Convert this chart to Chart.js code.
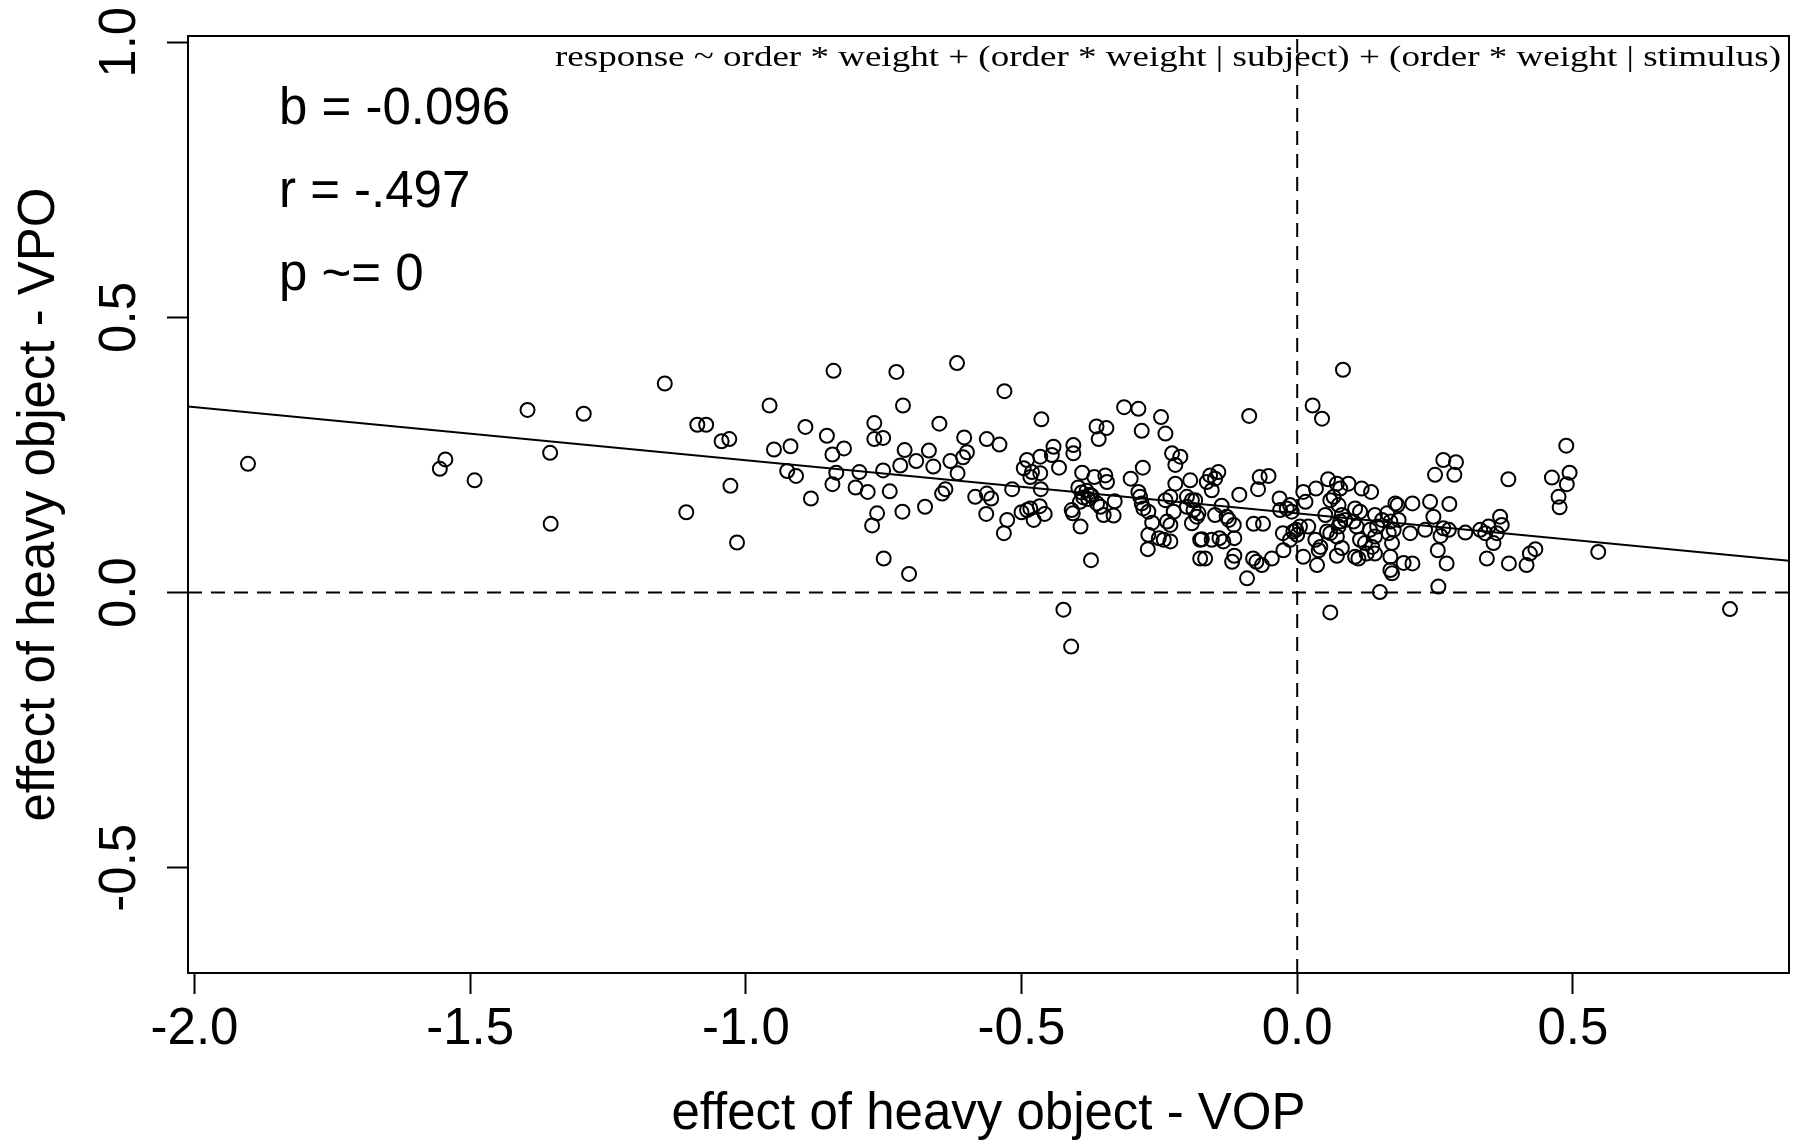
<!DOCTYPE html>
<html>
<head>
<meta charset="utf-8">
<script src="https://cdn.jsdelivr.net/npm/chart.js@4.4.1/dist/chart.umd.min.js"></script>
<style>
  html, body { margin: 0; padding: 0; background: #fff; }
  #wrap { width: 1801px; height: 1142px; }
</style>
</head>
<body>
<div id="wrap"><canvas id="plot" width="1801" height="1142"></canvas></div>
<script>
// ----------------- DATA -----------------
// effect of heavy object - VOP (x) / VPO (y), one entry per item
const vopEffect = [
  -1.903, -1.545, -1.555, -1.492, -1.396, -1.355, -1.354, -1.294, -1.147, -1.088,
  -1.072, -1.044, -1.030, -1.028, -1.108, -1.016, -0.957, -0.949,
  -0.919, -0.892, -0.925, -0.909, -0.882, -0.841, -0.853, -0.843, -0.822, -0.836,
  -0.843, -0.801, -0.779, -0.794, -0.767, -0.767, -0.751, -0.751, -0.739, -0.762,
  -0.771, -0.750, -0.704, -0.727, -0.715, -0.712, -0.720, -0.691, -0.716, -0.675,
  -0.668, -0.660, -0.649, -0.629, -0.617, -0.604, -0.599, -0.606, -0.616, -0.638,
  -0.644, -0.584, -0.563, -0.555, -0.564, -0.526, -0.532, -0.563, -0.540, -0.531,
  -0.517,
  -0.464, -0.490, -0.496, -0.481, -0.484, -0.466, -0.466, -0.442, -0.445, -0.432,
  -0.406, -0.406, -0.465, -0.500, -0.484, -0.478, -0.467, -0.458, -0.490, -0.409,
  -0.407, -0.393, -0.374, -0.390, -0.397, -0.391, -0.382, -0.376, -0.388, -0.379,
  -0.394, -0.373, -0.368, -0.348, -0.345, -0.363, -0.357, -0.351, -0.333, -0.331,
  -0.364, -0.346, -0.360, -0.314, -0.288, -0.282, -0.247, -0.239, -0.302, -0.280,
  -0.288, -0.285, -0.282, -0.279, -0.270, -0.263, -0.270, -0.271, -0.251, -0.242,
  -0.230, -0.236, -0.230, -0.239, -0.230, -0.224, -0.221, -0.227, -0.212, -0.221,
  -0.200, -0.191, -0.200, -0.188, -0.194, -0.182, -0.176, -0.176, -0.424, -0.410,
  0.083, 0.028, 0.045, -0.087, -0.158, -0.143, -0.164, -0.149, -0.155, -0.185,
  -0.179, -0.191, -0.149, -0.137, -0.128, -0.124, -0.115, -0.105, -0.068, -0.052,
  -0.071, -0.173, -0.155, -0.141, -0.134, -0.114, -0.167, -0.118, -0.114, -0.091,
  -0.079, -0.062, -0.080, -0.074, -0.064, -0.046, -0.032, -0.031, -0.013, -0.010,
  -0.019, -0.026, -0.025, -0.013, -0.002, 0.005, 0.000, -0.007, 0.011, 0.015,
  0.034, 0.020, 0.033, 0.042, 0.039, 0.011, 0.036, 0.056, 0.072, 0.093,
  0.078, 0.066, 0.060, 0.075, 0.051, 0.081, 0.078, 0.087, 0.075, 0.060,
  0.054, 0.072, 0.081, 0.072, 0.117, 0.134, 0.105, 0.114, 0.102, 0.108,
  0.105, 0.111, 0.114, 0.123, 0.132, 0.141, 0.136, 0.145, 0.126, 0.141,
  0.141, 0.154, 0.163, 0.178, 0.169, 0.175, 0.166, 0.172, 0.169, 0.172,
  0.150, 0.060, 0.169,
  0.488, 0.462, 0.494, 0.489, 0.474, 0.476, 0.383, 0.265, 0.288, 0.250,
  0.285, 0.182, 0.209, 0.241, 0.276, 0.247, 0.184, 0.205, 0.232, 0.265,
  0.260, 0.275, 0.305, 0.255, 0.271, 0.256, 0.193, 0.209, 0.332, 0.347,
  0.368, 0.371, 0.341, 0.356, 0.362, 0.344, 0.384, 0.416, 0.422, 0.432,
  0.546, 0.785
];
const vpoEffect = [
  0.234, 0.242, 0.225, 0.204, 0.332, 0.254, 0.125, 0.325, 0.380, 0.305,
  0.305, 0.275, 0.279, 0.194, 0.146, 0.091, 0.340, 0.260,
  0.266, 0.301, 0.221, 0.212, 0.171, 0.403, 0.285, 0.251, 0.262, 0.218,
  0.197, 0.191, 0.183, 0.219, 0.308, 0.279, 0.281, 0.222, 0.184, 0.144,
  0.122, 0.062, 0.034, 0.401, 0.340, 0.259, 0.231, 0.239, 0.147, 0.156,
  0.258, 0.229, 0.307, 0.239, 0.417, 0.282, 0.255, 0.246, 0.217, 0.188,
  0.180, 0.174, 0.180, 0.171, 0.143, 0.132, 0.108, 0.279, 0.269, 0.366,
  0.188,
  0.315, 0.241, 0.226, 0.219, 0.210, 0.217, 0.247, 0.265, 0.250, 0.227,
  0.268, 0.253, 0.188, 0.146, 0.153, 0.132, 0.157, 0.143, 0.150, 0.150,
  0.144, 0.120, 0.059, 0.218, 0.191, 0.182, 0.185, 0.178, 0.173, 0.170,
  0.165, 0.176, 0.210, 0.213, 0.201, 0.162, 0.156, 0.141, 0.140, 0.166,
  0.302, 0.299, 0.279, 0.337, 0.334, 0.294, 0.319, 0.289, 0.207, 0.227,
  0.183, 0.174, 0.162, 0.153, 0.147, 0.127, 0.105, 0.079, 0.099, 0.096,
  0.093, 0.129, 0.123, 0.168, 0.174, 0.147, 0.198, 0.253, 0.247, 0.232,
  0.174, 0.168, 0.156, 0.150, 0.204, 0.138, 0.096, 0.062, -0.031, -0.098,
  0.405, 0.340, 0.316, 0.321, 0.213, 0.219, 0.201, 0.207, 0.186, 0.168,
  0.144, 0.126, 0.141, 0.158, 0.138, 0.132, 0.123, 0.178, 0.210, 0.212,
  0.188, 0.097, 0.096, 0.099, 0.093, 0.099, 0.062, 0.056, 0.067, 0.026,
  0.125, 0.125, 0.062, 0.056, 0.050, 0.062, 0.171, 0.150, 0.159, 0.147,
  0.153, 0.108, 0.077, 0.096, 0.114, 0.120, 0.105, 0.111, 0.183, 0.165,
  0.189, 0.120, 0.096, 0.083, 0.077, 0.065, 0.050, 0.206, 0.198, 0.198,
  0.189, 0.174, 0.168, 0.159, 0.141, 0.141, 0.129, 0.132, 0.120, 0.108,
  0.111, 0.102, 0.081, 0.067, 0.189, 0.183, 0.153, 0.147, 0.129, 0.120,
  0.065, 0.062, 0.096, 0.090, 0.114, 0.102, 0.083, 0.120, 0.071, 0.071,
  0.141, 0.132, 0.144, 0.162, 0.129, 0.114, 0.108, 0.090, 0.065, 0.035,
  0.001, -0.036, 0.041,
  0.267, 0.209, 0.218, 0.197, 0.174, 0.155, 0.206, 0.241, 0.237, 0.214,
  0.214, 0.159, 0.162, 0.165, 0.161, 0.138, 0.132, 0.108, 0.114, 0.117,
  0.103, 0.114, 0.109, 0.077, 0.053, 0.011, 0.054, 0.053, 0.114, 0.120,
  0.138, 0.123, 0.108, 0.090, 0.108, 0.062, 0.053, 0.050, 0.071, 0.079,
  0.074, -0.030
];

// fitted line ends (as drawn across the plot)
const fitX = [-2.012, 0.892];
const fitY = [0.338, 0.058];

const xTicks = [-2.0, -1.5, -1.0, -0.5, 0.0, 0.5];
const yTicks = [-0.5, 0.0, 0.5, 1.0];
const xRange = [-2.0118, 0.892];
const yRange = [-0.6912, 1.0114];

const statLines = ["b = -0.096", "r = -.497", "p ~= 0"];
const formulaText = "response ~ order * weight + (order * weight | subject) + (order * weight | stimulus)";

// ----------------- CHART -----------------
const FONT = "'Liberation Sans', Arial, Helvetica, sans-serif";
Chart.defaults.color = "#000";
Chart.defaults.font.family = FONT;

const points = vopEffect.map((x, i) => ({ x, y: vpoEffect[i] }));

// box + texts, R style
const extras = {
  id: "extras",
  afterDraw(chart) {
    const { ctx, chartArea: a } = chart;
    ctx.save();
    ctx.strokeStyle = "#000";
    ctx.lineWidth = 2;
    ctx.strokeRect(a.left, a.top, a.right - a.left, a.bottom - a.top);

    ctx.fillStyle = "#000";
    ctx.font = "51px " + FONT;
    ctx.textAlign = "left";
    ctx.textBaseline = "alphabetic";
    statLines.forEach((t, i) => ctx.fillText(t, 279, 124 + i * 83));

    // formula, stretched to the same width as in the original
    ctx.font = "30px 'Liberation Serif', 'Times New Roman', serif";
    const w = ctx.measureText(formulaText).width;
    const targetW = 1226;
    ctx.translate(1781, 66);
    ctx.scale(targetW / w, 1);
    ctx.textAlign = "right";
    ctx.fillText(formulaText, 0, 0);
    ctx.restore();
  }
};

function fixedTicks(list) {
  return scale => { scale.ticks = list.map(v => ({ value: v })); };
}

new Chart(document.getElementById("plot"), {
  type: "scatter",
  data: {
    datasets: [
      {
        type: "line",
        data: [{ x: xRange[0], y: 0 }, { x: xRange[1], y: 0 }],
        borderColor: "#000", borderWidth: 2, borderDash: [14, 9],
        pointRadius: 0, fill: false
      },
      {
        type: "line",
        data: [{ x: 0, y: yRange[0] }, { x: 0, y: yRange[1] }],
        borderColor: "#000", borderWidth: 2, borderDash: [14, 9],
        pointRadius: 0, fill: false
      },
      {
        type: "line",
        data: fitX.map((x, i) => ({ x, y: fitY[i] })),
        borderColor: "#000", borderWidth: 2,
        pointRadius: 0, fill: false
      },
      {
        data: points,
        pointStyle: "circle",
        pointRadius: 7,
        pointBorderWidth: 2,
        borderColor: "#000",
        backgroundColor: "rgba(0,0,0,0)"
      }
    ]
  },
  options: {
    responsive: false,
    animation: false,
    devicePixelRatio: 1,
    layout: { padding: { top: 36, right: 12, left: 0, bottom: 0 } },
    plugins: { legend: { display: false }, tooltip: { enabled: false } },
    scales: {
      x: {
        type: "linear",
        min: xRange[0],
        max: xRange[1],
        afterBuildTicks: fixedTicks(xTicks),
        afterFit: s => { s.height = 169; },
        grid: { drawOnChartArea: false, drawTicks: true, tickLength: 21, tickWidth: 2, tickColor: "#000" },
        border: { display: true, color: "#000", width: 2 },
        ticks: {
          padding: 5,
          maxRotation: 0,
          autoSkip: false,
          font: { size: 51 },
          callback: v => Number(v).toFixed(1)
        },
        title: {
          display: true,
          text: "effect of heavy object - VOP",
          font: { size: 51, lineHeight: 1.08 },
          padding: { top: 0, bottom: 0 }
        }
      },
      y: {
        type: "linear",
        min: yRange[0],
        max: yRange[1],
        afterBuildTicks: fixedTicks(yTicks),
        afterFit: s => { s.width = 188; },
        grid: { drawOnChartArea: false, drawTicks: true, tickLength: 21, tickWidth: 2, tickColor: "#000" },
        border: { display: true, color: "#000", width: 2 },
        ticks: {
          padding: 2,
          minRotation: 90,
          maxRotation: 90,
          crossAlign: "center",
          autoSkip: false,
          font: { size: 51 },
          callback: v => Number(v).toFixed(1)
        },
        title: {
          display: true,
          text: "effect of heavy object - VPO",
          font: { size: 51 },
          padding: { top: 9, bottom: 0 }
        }
      }
    }
  },
  plugins: [extras]
});
</script>
</body>
</html>
